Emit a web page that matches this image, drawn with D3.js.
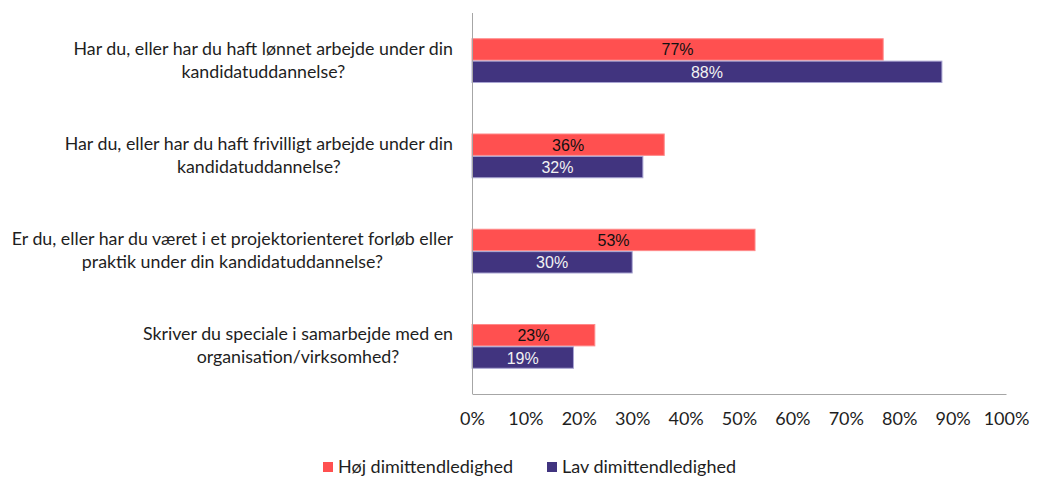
<!DOCTYPE html>
<html>
<head>
<meta charset="utf-8">
<script src="https://cdn.jsdelivr.net/npm/d3@7"></script>
<style>
  body { margin: 0; background: #fff; }
  svg { display: block; }
  .cat, .tick text, .legend text { font-family: Lato, "Open Sans", sans-serif; fill: #1e1e1e; }
  .val { font-family: "Liberation Sans", Arial, sans-serif; font-size: 16px; }
</style>
</head>
<body>
<script>
// questions, each split into the two lines shown
var questions = [
	["Har du, eller har du haft lønnet arbejde under din", "kandidatuddannelse?"],
	["Har du, eller har du haft frivilligt arbejde under din", "kandidatuddannelse?"],
	["Er du, eller har du været i et projektorienteret forløb eller", "praktik under din kandidatuddannelse?"],
	["Skriver du speciale i samarbejde med en", "organisation/virksomhed?"]
];
var seriesNames = ["Høj dimittendledighed", "Lav dimittendledighed"];
var hojValues = [77, 36, 53, 23];
var lavValues = [88, 32, 30, 19];
var tickValues = [0, 10, 20, 30, 40, 50, 60, 70, 80, 90, 100];

drawChart();

function drawChart(){

	var colors = ["#ff5050", "#41347f"];
	var strokes = ["#ff8a8a", "#a9a5d2"];
	var labelColors = ["#111", "#f2f2f2"];

	var w = 1037, h = 478;
	var plotLeft = 472, plotRight = 1006, plotTop = 13, plotBottom = 394;

	var svg = d3.select("body").append("svg")
		.attr("width", w)
		.attr("height", h);

	var x = d3.scaleLinear()
		.domain([0, 100])
		.range([plotLeft, plotRight]);

	var y = d3.scaleBand()
		.domain(d3.range(questions.length))
		.range([plotTop, plotBottom])
		.paddingInner(0.53)
		.paddingOuter(0.265);

	var sub = d3.scaleBand()
		.domain([0, 1])
		.range([0, y.bandwidth()]);

	var rows = questions.map(function(q, i){
		return { i: i, values: [hojValues[i], lavValues[i]] };
	});

	var groups = svg.selectAll(".grp")
		.data(rows)
		.enter()
		.append("g")
		.attr("class", "grp")
		.attr("transform", function(d){ return "translate(0," + y(d.i) + ")"; });

	groups.selectAll("rect")
		.data(function(d){ return d.values; })
		.enter()
		.append("rect")
		.attr("x", x(0))
		.attr("y", function(d, s){ return sub(s) + 0.5; })
		.attr("width", function(d){ return x(d) - x(0); })
		.attr("height", sub.bandwidth() - 1)
		.style("fill", function(d, s){ return colors[s]; })
		.style("stroke", function(d, s){ return strokes[s]; })
		.style("stroke-width", 1);

	groups.selectAll(".val")
		.data(function(d){ return d.values; })
		.enter()
		.append("text")
		.attr("class", "val")
		.attr("x", function(d){ return (x(0) + x(d)) / 2; })
		.attr("y", function(d, s){ return sub(s) + sub.bandwidth() / 2 + 6; })
		.attr("text-anchor", "middle")
		.style("fill", function(d, s){ return labelColors[s]; })
		.text(function(d){ return d + "%"; });

	//axes
	var xAxis = d3.axisBottom(x)
		.tickValues(tickValues)
		.tickSize(0)
		.tickPadding(18)
		.tickFormat(function(d){ return d + "%"; });

	var ax = svg.append("g")
		.attr("transform", "translate(0," + plotBottom + ")")
		.call(xAxis);
	ax.select(".domain").attr("stroke", "#a6a6a6");
	ax.selectAll("text").style("font-size", "18px");

	svg.append("line")
		.attr("x1", plotLeft + 0.5).attr("x2", plotLeft + 0.5)
		.attr("y1", plotTop).attr("y2", plotBottom)
		.attr("stroke", "#a6a6a6");

	//category labels, centred block with its right edge at 453
	var cats = svg.selectAll(".cat")
		.data(questions)
		.enter()
		.append("text")
		.attr("class", "cat")
		.style("font-size", "17.8px")
		.attr("text-anchor", "middle");

	cats.each(function(q, i){
		var t = d3.select(this);
		var cy = y(i) + y.bandwidth() / 2;
		q.forEach(function(line, k){
			t.append("tspan")
				.attr("y", cy - 6 + k * 23)
				.text(line);
		});
		var maxW = 0;
		t.selectAll("tspan").each(function(){ maxW = Math.max(maxW, this.getComputedTextLength()); });
		t.selectAll("tspan").attr("x", 453 - maxW / 2);
	});

	//legend
	var legendX = [323, 547];
	var legend = svg.selectAll(".legend")
		.data(seriesNames)
		.enter()
		.append("g")
		.attr("class", "legend")
		.attr("transform", function(d, i){ return "translate(" + legendX[i] + ",462)"; });

	legend.append("rect")
		.attr("width", 10)
		.attr("height", 10)
		.style("fill", function(d, i){ return colors[i]; });

	legend.append("text")
		.attr("x", 15)
		.attr("y", 11)
		.style("font-size", "18px")
		.text(function(d){ return d; });
}
</script>
</body>
</html>
